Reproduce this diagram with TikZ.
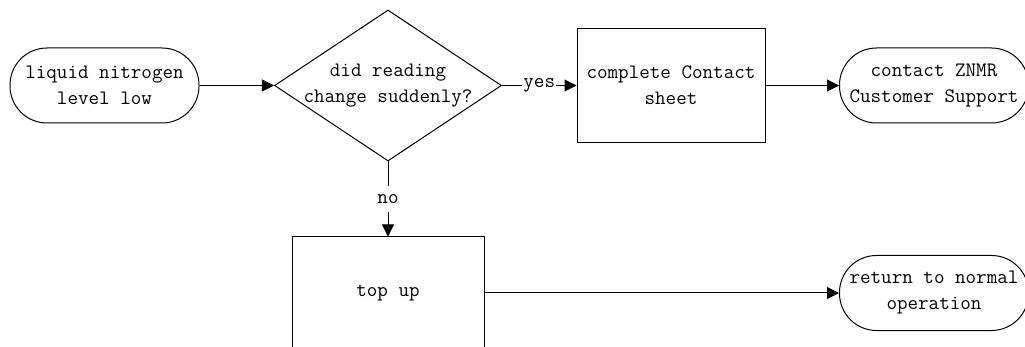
\documentclass[tikz,border=0pt]{standalone}
\usepackage{tikz}
\usetikzlibrary{arrows.meta,shapes,positioning}

\begin{document}
\begin{tikzpicture}[x=1pt,y=-1pt,line width=1pt,
		every node/.style={font=\ttfamily\fontsize{20.5}{26}\selectfont},
		term/.style={draw,rounded corners=37pt,minimum width=189pt,minimum height=75pt,align=center,inner sep=0pt},
		box/.style={draw,minimum width=188pt,minimum height=114pt,align=center},
		decision/.style={draw,diamond,minimum width=227pt,minimum height=151pt,inner sep=0pt},
		lbl/.style={fill=white,inner xsep=1pt,inner ysep=8pt},
		link/.style={-{Triangle[length=12pt,width=12pt]}}]
				\useasboundingbox (0,0) rectangle (1025,347);
				% nodes
				\node[term] (low) at (104.5,85.5) {liquid nitrogen\\level low};
				\node[decision,label={[align=center]center:did reading\\change suddenly?}] (ask) at (388,85.5) {};
				\node[box] (sheet) at (671,85.5) {complete Contact\\sheet};
				\node[term] (support) at (934,85.5) {contact ZNMR\\Customer Support};
				\node[box,minimum width=192pt,minimum height=112pt] (topup) at (388,293) {top up};
				\node[term] (normal) at (934,293) {return to normal\\operation};
				% connectors
				\draw[link] (low) -- (ask);
				\draw[link] (ask) -- node[lbl] {yes} (sheet);
				\draw[link] (sheet) -- (support);
				\draw[link] (ask.south) -- node[lbl] {no} (topup.north);
				\draw[link] (topup) -- (normal);
			\end{tikzpicture}
\end{document}
